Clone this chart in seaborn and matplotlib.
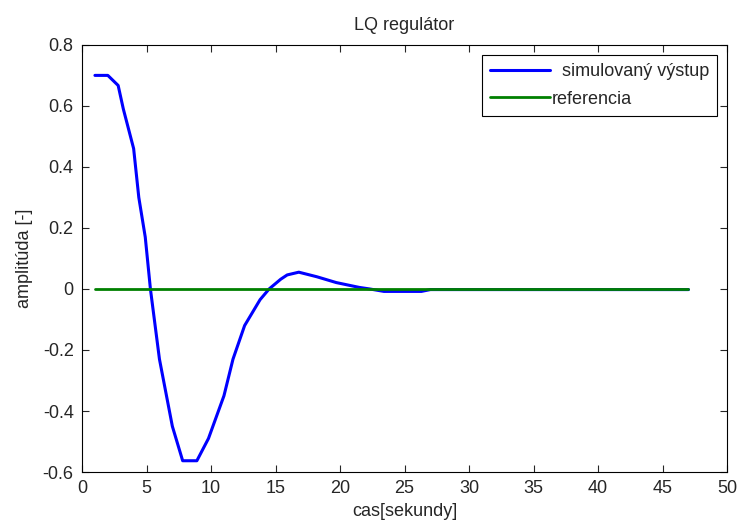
import matplotlib
matplotlib.use("Agg")
import matplotlib.pyplot as plt
import seaborn as sns
import numpy as np
import pandas as pd

# values
cas = [1, 2, 2.8, 3.2, 4.0, 4.4, 4.9, 5.3, 6.0, 7.0, 7.8, 8.9, 9.8, 11.0, 11.7,
       12.6, 13.8, 14.5, 15.4, 15.9, 16.8, 18.2, 19.7, 21.5, 22.3, 23.4, 26.3,
       27.0, 47.0]
vystup = [0.70, 0.70, 0.667, 0.59, 0.46, 0.30, 0.17, 0.0, -0.23, -0.45, -0.563,
          -0.563, -0.49, -0.35, -0.23, -0.12, -0.035, 0.0, 0.032, 0.046, 0.055,
          0.040, 0.021, 0.005, 0.0, -0.008, -0.008, -0.002, -0.002]
ref_cas = [1, 47]
referencia = [0, 0]

sns.set_style("ticks")
plt.rcParams["font.family"] = ["Liberation Sans", "DejaVu Sans"]
fs = 13

fig = plt.figure(figsize=(7.39, 5.28), dpi=100)
ax = fig.add_axes([0.111, 0.106, 0.873, 0.809])

df_sim = pd.DataFrame({"cas": cas, "y": vystup})
df_ref = pd.DataFrame({"cas": ref_cas, "y": referencia})
sns.lineplot(data=df_sim, x="cas", y="y", ax=ax, color=(0, 0, 1), linewidth=2.2,
             label="  simulovaný výstup", estimator=None, sort=False)
sns.lineplot(data=df_ref, x="cas", y="y", ax=ax, color=(0, 0.5, 0), linewidth=2,
             label="referencia", estimator=None, sort=False)

ax.set_xlim(0, 50)
ax.set_ylim(-0.6, 0.8)
ax.set_xticks(np.arange(0, 51, 5))
ax.set_yticks(np.arange(-0.6, 0.81, 0.2))
ax.set_yticklabels(["-0.6", "-0.4", "-0.2", "0", "0.2", "0.4", "0.6", "0.8"])
ax.tick_params(direction="in", top=True, right=True, labelsize=fs, length=5,
               width=0.8)
ax.tick_params(axis="x", pad=6)
ax.tick_params(axis="y", pad=6)
for s in ax.spines.values():
    s.set_linewidth(0.8)
    s.set_color("black")

ax.set_xlabel("cas[sekundy]", fontsize=fs, labelpad=4)
ax.set_ylabel("amplitúda [-]", fontsize=fs, labelpad=7)
ax.set_title("LQ regulátor", fontsize=fs, pad=11)

leg = ax.legend(loc="upper right", fontsize=fs, fancybox=False, framealpha=1,
                edgecolor="black", handlelength=3.3, handletextpad=0.1,
                borderaxespad=0.55, labelspacing=0.6, borderpad=0.45)
leg.get_frame().set_linewidth(0.8)

plt.savefig("out.png", dpi=100)
